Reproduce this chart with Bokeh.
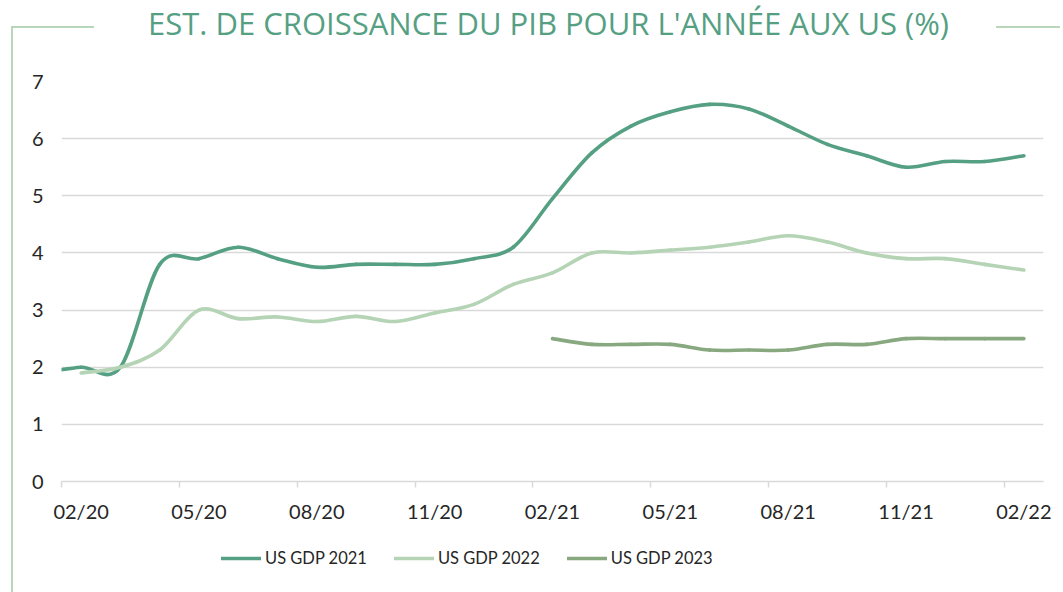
import numpy as np
from bokeh.plotting import figure
from bokeh.layouts import column
from bokeh.models import (FixedTicker, Legend, LegendItem, Range1d, InlineStyleSheet, Div)
from bokeh.embed import file_html
from bokeh.resources import INLINE

# ---------------- data ----------------
months = ["01/20", "02/20", "03/20", "04/20", "05/20", "06/20", "07/20", "08/20", "09/20",
          "10/20", "11/20", "12/20", "01/21", "02/21", "03/21", "04/21", "05/21", "06/21",
          "07/21", "08/21", "09/21", "10/21", "11/21", "12/21", "01/22", "02/22"]

gdp_2021 = [1.9, 2.0, 2.0, 3.8, 3.9, 4.1, 3.9, 3.75, 3.8, 3.8, 3.8, 3.9,
            4.1, 4.95, 5.75, 6.22, 6.47, 6.6, 6.52, 6.22, 5.9, 5.7, 5.5, 5.6,
            5.6, 5.7]
gdp_2022 = [None, 1.9, 2.0, 2.3, 3.0, 2.85, 2.88, 2.8, 2.89, 2.8, 2.95, 3.1,
            3.45, 3.65, 4.0, 4.0, 4.05, 4.1, 4.19, 4.3, 4.19, 4.0, 3.9, 3.9,
            3.8, 3.7]
gdp_2023 = [None] * 13 + [2.5, 2.4, 2.4, 2.4, 2.3, 2.3, 2.3, 2.4, 2.4, 2.5, 2.5,
                          2.5, 2.5]

series_names = ["US GDP 2021", "US GDP 2022", "US GDP 2023"]
series_colors = ["#55A083", "#B4D4B5", "#88A980"]
title_text = "EST. DE CROISSANCE DU PIB POUR L'ANNÉE AUX US (%)"
y_ticks = [0, 1, 2, 3, 4, 5, 6, 7]

# ---------------- helpers ----------------
idx = np.arange(len(months))


def smooth_segments(values):
    xs = np.array([i for i, v in zip(idx, values) if v is not None], dtype=float)
    ys = np.array([v for v in values if v is not None], dtype=float)
    n = len(xs)
    d = dict(x0=[], y0=[], x1=[], y1=[], cx0=[], cy0=[], cx1=[], cy1=[])
    for i in range(n - 1):
        pm = max(i - 1, 0)
        pp = min(i + 2, n - 1)
        d["x0"].append(xs[i]); d["y0"].append(ys[i])
        d["x1"].append(xs[i + 1]); d["y1"].append(ys[i + 1])
        d["cx0"].append(xs[i] + (xs[i + 1] - xs[pm]) / 6)
        d["cy0"].append(ys[i] + (ys[i + 1] - ys[pm]) / 6)
        d["cx1"].append(xs[i + 1] - (xs[pp] - xs[i]) / 6)
        d["cy1"].append(ys[i + 1] - (ys[pp] - ys[i]) / 6)
    return d


W, HT, H1, H2 = 1060, 50, 480, 60
title_col = "#55A083"

# ---------------- title ----------------
title = Div(text=title_text, width=W, height=HT, margin=0,
            styles={"font-family": "'Open Sans', sans-serif", "font-size": "31px",
                    "color": title_col, "line-height": "40px", "padding-top": "3px",
                    "padding-left": "148px", "white-space": "nowrap",
                    "box-sizing": "border-box"})

# ---------------- main figure ----------------
p = figure(width=W, height=H1, output_backend="svg", toolbar_location=None,
           x_range=Range1d(0.5, 25.5), y_range=Range1d(0, 7),
           min_border_left=61, min_border_right=W - 1043, min_border_top=81 - HT,
           min_border_bottom=H1 - (481 - HT), outline_line_color=None, margin=0)
p.background_fill_color = "white"
p.border_fill_color = "white"

for vals, col in zip([gdp_2021, gdp_2022, gdp_2023], series_colors):
    p.bezier(line_color=col, line_width=3.6, line_cap="round", **smooth_segments(vals))

# axes
label_pos = [i for i in idx if i >= 1 and (i - 1) % 3 == 0]
xax = p.xaxis[0]
xax.ticker = FixedTicker(ticks=label_pos, minor_ticks=[i - 0.5 for i in label_pos])
xax.major_label_overrides = {int(i): months[i] for i in label_pos}
xax.major_tick_line_color = None
xax.major_tick_out = 0
xax.major_tick_in = 0
xax.minor_tick_line_color = "#D9D9D9"
xax.minor_tick_line_width = 1.5
xax.minor_tick_out = 6
xax.minor_tick_in = 0
xax.axis_line_color = "#D9D9D9"
xax.axis_line_width = 1.5
xax.major_label_text_font = "Lato"
xax.major_label_text_font_size = "20px"
xax.major_label_text_color = "#262626"
xax.major_label_standoff = 11

yax = p.yaxis[0]
yax.ticker = FixedTicker(ticks=y_ticks)
yax.axis_line_color = None
yax.major_tick_line_color = None
yax.minor_tick_line_color = None
yax.major_tick_out = 0
yax.major_tick_in = 0
yax.major_label_text_font = "Lato"
yax.major_label_text_font_size = "20px"
yax.major_label_text_color = "#262626"
yax.major_label_standoff = 18

p.xgrid.grid_line_color = None
p.ygrid.grid_line_color = "#D9D9D9"
p.ygrid.grid_line_width = 1.5

# ---------------- legend strip ----------------
pl = figure(width=W, height=H2, output_backend="svg", toolbar_location=None,
            x_range=Range1d(0, 1), y_range=Range1d(0, 1), min_border=0, margin=0,
            x_axis_location=None, y_axis_location=None, outline_line_color=None)
pl.xgrid.grid_line_color = None
pl.ygrid.grid_line_color = None
leg_renderers = [pl.line(x=[-2, -1], y=[-2, -1], line_color=c, line_width=3.6, line_cap="round")
                 for c in series_colors]
legend = Legend(items=[LegendItem(label=n, renderers=[r]) for n, r in zip(series_names, leg_renderers)],
                orientation="horizontal", location=(160, 22),
                glyph_width=40, glyph_height=20, label_standoff=4, spacing=27,
                padding=0, margin=0, border_line_color=None, background_fill_alpha=0,
                label_text_font="Lato", label_text_font_size="16.5px",
                label_text_color="#262626", label_text_baseline="middle")
pl.add_layout(legend, "center")

layout = column(title, p, pl, spacing=0)

# decorative frame lines (page decoration, drawn with CSS)
frame_col = "#B8D6B9"
layout.stylesheets = [InlineStyleSheet(css=f"""
:host::before {{ content: ''; position: absolute; left: 11px; top: 26px; width: 81px;
  height: {HT + H1 + H2 - 26}px; border-left: 2px solid {frame_col}; border-top: 2px solid {frame_col};
  pointer-events: none; z-index: 5; }}
:host::after {{ content: ''; position: absolute; left: 996px; top: 26px; width: {W - 996}px;
  height: 0px; border-top: 2px solid {frame_col}; pointer-events: none; z-index: 5; }}
""")]

open("out.html", "w").write(file_html(layout, INLINE))
